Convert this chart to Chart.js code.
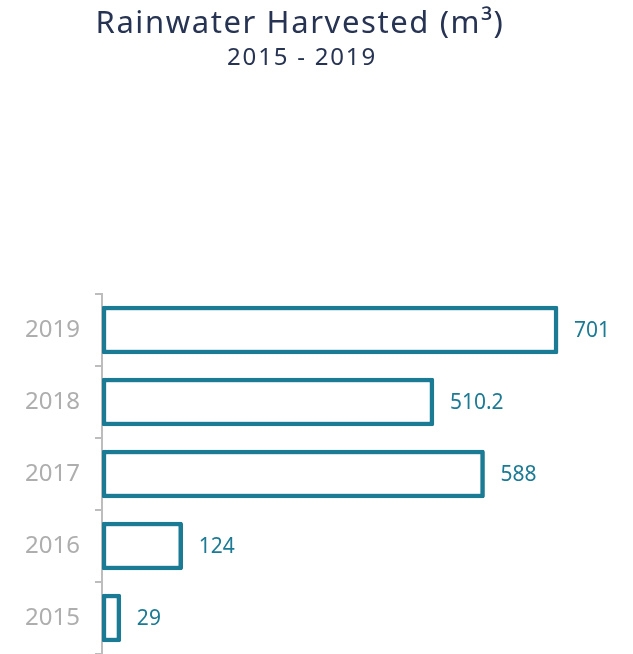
<!DOCTYPE html>
<html>
<head>
<meta charset="utf-8">
<script src="https://cdn.jsdelivr.net/npm/chart.js@4"></script>
<style>
  html, body { margin: 0; padding: 0; background: #fff; }
  #wrap { width: 633px; height: 654px; }
</style>
</head>
<body>
<div id="wrap"><canvas id="chart"></canvas></div>
<script>
const years = ['2019', '2018', '2017', '2016', '2015'];
const harvested = [701, 510.2, 588, 124, 29];
const titleText = 'Rainwater Harvested (m³)';
const subtitleText = '2015 - 2019';

const teal = '#1b7a94';
const navy = '#263352';

// title + subtitle, a bit wider letter spacing like the original typeface
const headings = {
  id: 'headings',
  afterDraw(chart) {
    const ctx = chart.ctx;
    ctx.save();
    ctx.fillStyle = navy;
    ctx.textAlign = 'center';
    ctx.textBaseline = 'alphabetic';
    ctx.font = '31px "Noto Sans"';
    ctx.letterSpacing = '1.6px';
    ctx.fillText(titleText, 300, 33);
    ctx.font = '24px "Noto Sans"';
    ctx.letterSpacing = '1.8px';
    ctx.fillText(subtitleText, 302, 65);
    ctx.restore();
  }
};

// value labels to the right of each bar
const valueLabels = {
  id: 'valueLabels',
  afterDatasetsDraw(chart) {
    const ctx = chart.ctx;
    const meta = chart.getDatasetMeta(0);
    ctx.save();
    ctx.font = '21px "Noto Sans"';
    ctx.fillStyle = teal;
    ctx.textAlign = 'left';
    ctx.textBaseline = 'middle';
    meta.data.forEach((bar, i) => {
      ctx.fillText(String(harvested[i]), bar.x + 16, bar.y + 1);
    });
    ctx.restore();
  }
};

const chart = new Chart(document.getElementById('chart'), {
  type: 'bar',
  data: {
    labels: years,
    datasets: [{
      data: harvested,
      backgroundColor: '#ffffff',
      borderColor: teal,
      borderWidth: 4.5,
      borderRadius: 2,
      borderSkipped: false,
      barThickness: 48
    }]
  },
  options: {
    indexAxis: 'y',
    responsive: true,
    maintainAspectRatio: false,
    animation: false,
    layout: { padding: { left: 0, right: 32, top: 294, bottom: 0 } },
    plugins: {
      legend: { display: false },
      tooltip: { enabled: false },
      title: { display: false }
    },
    scales: {
      x: {
        display: false,
        min: 0,
        max: 767
      },
      y: {
        afterFit(scale) {
          scale.width = 102;
          scale.paddingTop = 0;
          scale.paddingBottom = 0;
        },
        border: { display: true, color: '#bdbdbd', width: 2 },
        grid: {
          offset: true,
          drawOnChartArea: false,
          tickLength: 7,
          color: '#bdbdbd',
          lineWidth: 2
        },
        ticks: {
          color: '#aeaeae',
          padding: 15,
          font: { family: '"Noto Sans"', size: 24 }
        }
      }
    }
  },
  plugins: [valueLabels, headings]
});
</script>
</body>
</html>
